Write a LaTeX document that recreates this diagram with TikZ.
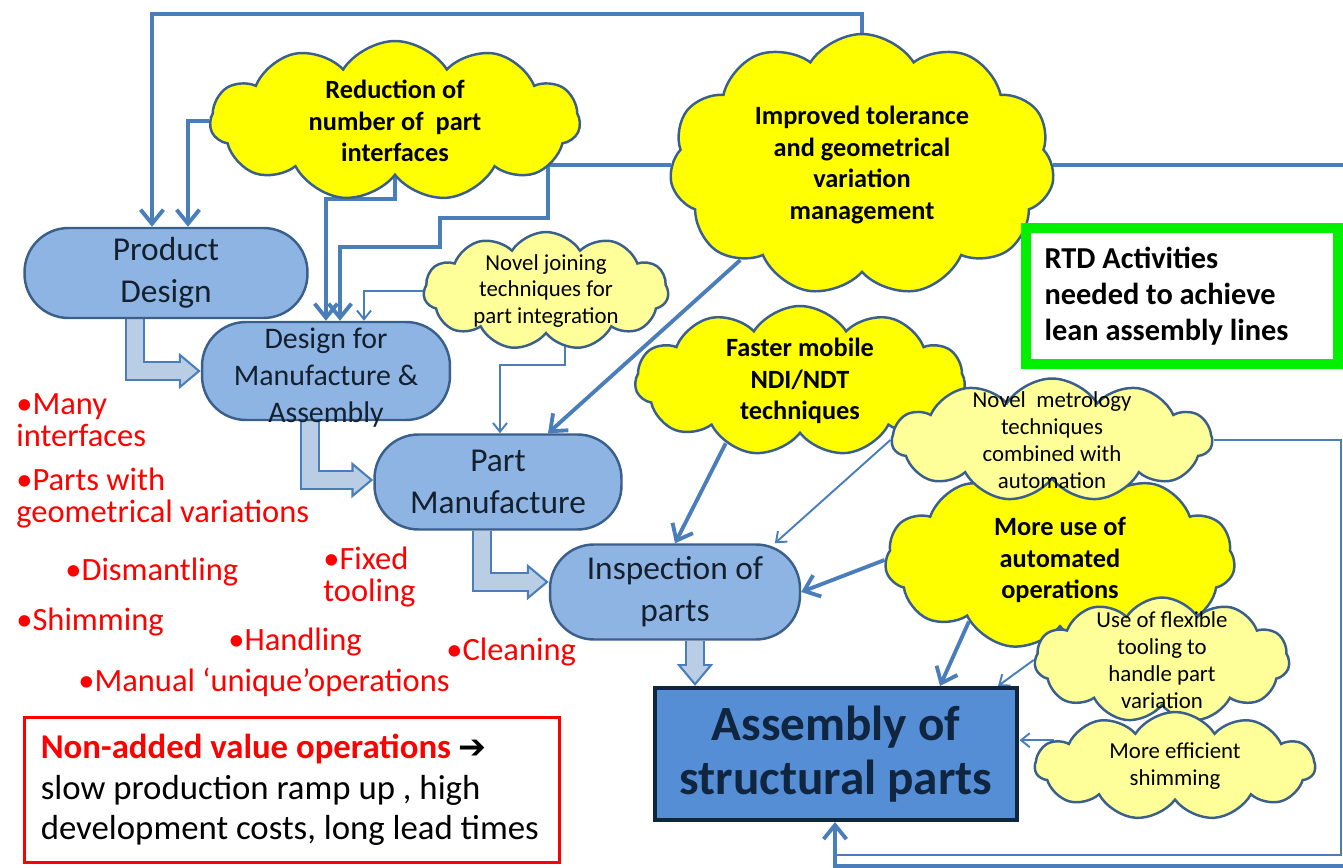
\documentclass[tikz,border=0pt]{standalone}
\usepackage{fontspec}
\setmainfont{Carlito}
\newfontfamily\symbfont{DejaVu Sans}
\usetikzlibrary{positioning, arrows.meta, shapes.symbols, calc, backgrounds}
\definecolor{boxFill}{HTML}{8EB4E3}
\definecolor{boxLine}{HTML}{3A5F8B}
\definecolor{boxText}{HTML}{14202E}
\definecolor{asmFill}{HTML}{558ED5}
\definecolor{asmLine}{HTML}{10253F}
\definecolor{blockFill}{HTML}{B9CDE5}
\definecolor{blockLine}{HTML}{4A7EBB}
\definecolor{connBlue}{HTML}{4A7EBB}
\definecolor{cloudLine}{HTML}{3A5F8B}
\definecolor{cloudYellow}{HTML}{FFFF00}
\definecolor{cloudPale}{HTML}{FFFF99}
\definecolor{myRed}{HTML}{FF0000}
\definecolor{myGreen}{HTML}{00F000}

\begin{document}
\begin{tikzpicture}[x=0.02cm, y=-0.02cm,
  flowbox/.style={draw=boxLine, line width=1.4pt, fill=boxFill, text=boxText,
                  rounded corners=0.88cm, align=center, inner sep=0pt,
                  font=\fontsize{19}{24}\selectfont},
  bigcloud/.style={cloud, cloud puffs=11, cloud puff arc=115, cloud ignores aspect,
                   draw=cloudLine, line width=1.4pt, fill=cloudYellow, align=center,
                   inner xsep=-14pt, inner ysep=-24pt,
                   font=\bfseries\fontsize{15}{18}\selectfont},
  smallcloud/.style={bigcloud, fill=cloudPale, font=\fontsize{13}{15.3}\selectfont},
  redtext/.style={text=myRed, align=left, anchor=west, inner sep=0pt,
                  font=\fontsize{18.5}{18}\selectfont},
  thickconn/.style={draw=connBlue, line width=2.2pt, line join=miter,
                    -{Straight Barb[length=8pt,width=13pt]}},
  thinconn/.style={draw=connBlue, line width=1.1pt, line join=miter,
                   -{Straight Barb[length=5pt,width=8pt]}},
  blockout/.style={draw=blockLine, line width=11.5pt, line join=miter,
                   -{Triangle[length=12.5pt,width=20pt]}},
  blockin/.style={draw=blockFill, line width=9pt, line join=miter, shorten >=2pt,
                  -{Triangle[length=9.25pt,width=14.8pt]}},
]
  \useasboundingbox (0,0) rectangle (1343,868);

  % process chain
  \node[flowbox, minimum width=5.66cm, minimum height=1.8cm] (pd) at (166,273)
    {Product\\Design};
  \node[flowbox, minimum width=4.96cm, minimum height=1.96cm] (dfma) at (326,371) {};
  \node[align=center, inner sep=0pt, text=boxText,
        font=\fontsize{17}{21}\selectfont] (dfmatext) at (326,378)
    {Design for\\Manufacture \&\\Assembly};
  \node[flowbox, minimum width=4.94cm, minimum height=1.9cm] (pm) at (498,482)
    {Part\\Manufacture};
  \node[flowbox, minimum width=5cm, minimum height=1.9cm] (insp) at (675,592)
    {Inspection of\\parts};
  \node[draw=asmLine, line width=2.3pt, fill=asmFill, text=asmLine, align=center,
        minimum width=7.26cm, minimum height=2.64cm,
        font=\bfseries\fontsize{28}{31}\selectfont] (asm) at (836,754)
    {Assembly of\\structural parts};

  % RTD clouds
  \node[bigcloud, minimum width=7.4cm, minimum height=3.2cm] (red) at (395,121)
    {Reduction of\\number of\ \ part\\interfaces};
  \node[bigcloud, minimum width=7.7cm, minimum height=5.24cm] (impr) at (862,165)
    {Improved tolerance\\and geometrical\\variation\\management};
  \node[smallcloud, minimum width=4.9cm, minimum height=2.36cm] (join) at (546,291)
    {Novel joining\\techniques for\\part integration};
  \node[bigcloud, minimum width=6.6cm, minimum height=3cm] (fast) at (800,381)
    {Faster mobile\\NDI/NDT\\techniques};
  \node[bigcloud, minimum width=7cm, minimum height=3.6cm] (auto) at (1060,560)
    {More use of\\automated\\operations};
  \node[smallcloud, minimum width=6.4cm, minimum height=2.46cm] (metro) at (1052,440)
    {Novel\ \ metrology\\techniques\\combined with\\automation};
  \node[smallcloud, minimum width=5.1cm, minimum height=2.5cm] (flex) at (1162,660)
    {Use of flexible\\tooling to\\handle part\\variation};
  \node[smallcloud, minimum width=5.6cm, minimum height=2.16cm] (shim) at (1175,766)
    {More efficient\\shimming};

  % legend boxes
  \node[draw=myGreen, line width=5.5pt, align=flush left, text width=5.5cm,
        minimum width=6.24cm, minimum height=2.72cm,
        font=\bfseries\fontsize{17.3}{20.5}\selectfont] (rtd) at (1182,296)
    {RTD Activities\\needed to achieve\\lean assembly lines};
  \node[draw=myRed, line width=1.8pt, align=flush left, text width=10.05cm,
        minimum width=10.7cm, minimum height=2.9cm,
        font=\fontsize{19.8}{23}\selectfont] (nva) at (292,790)
    {{\color{myRed}\bfseries Non-added value operations} {\symbfont\fontsize{19}{20}\selectfont ➔}\\
     slow production ramp up , high\\development costs, long lead times};

  % non-added value operations
  \node[redtext] (many) at (16,420) {•Many\\interfaces};
  \node[redtext] (geom) at (16,498) {•Parts with\\geometrical variations};
  \node[redtext] (dismantle) at (65,572) {•Dismantling};
  \node[redtext] (fixed) at (323,577) {•Fixed\\tooling};
  \node[redtext] (shimtxt) at (16,622) {•Shimming};
  \node[redtext] (handling) at (228,642) {•Handling};
  \node[redtext] (cleaning) at (446,652) {•Cleaning};
  \node[redtext] (manual) at (78,682) {•Manual ‘unique’operations};

  \coordinate (topturn) at (0,14);
  \coordinate (retjoin) at (835,855);

  \begin{scope}[on background layer]
    % block arrows along the chain
    \draw[blockout] ($(pd.south)+(-31,0)$) |- (dfma.west);
    \draw[blockin]  ($(pd.south)+(-31,0)$) |- (dfma.west);
    \draw[blockout] ($(dfma.south)+(-16,0)$) |- ($(pm.west)+(0,-2)$);
    \draw[blockin]  ($(dfma.south)+(-16,0)$) |- ($(pm.west)+(0,-2)$);
    \draw[blockout] ($(pm.south)+(-16,0)$) |- ($(insp.west)+(0,-10)$);
    \draw[blockin]  ($(pm.south)+(-16,0)$) |- ($(insp.west)+(0,-10)$);
    \draw[blockout] ($(insp.south)+(20,0)$) -- ($(asm.north)+(-141,0)$);
    \draw[blockin]  ($(insp.south)+(20,0)$) -- ($(asm.north)+(-141,0)$);

    % clouds feeding the chain
    \draw[thickconn] (impr.north) -- (impr.north |- topturn) -| ($(pd.north)+(-14,0)$);
    \draw[thickconn] (red.west) -| ($(pd.north)+(22,0)$);
    \draw[thickconn] (red.south) -- ++(0,22) -| (dfma.north);
    \draw[thickconn] (impr.west) -| (548,218) -| (440,247) -| ($(dfma.north)+(14,0)$);
    \draw[thinconn]  (join.west) -| ($(dfma.north)+(38,0)$);
    \draw[thickconn] (impr.218) -- ($(pm.north)+(50,0)$);
    \draw[thinconn]  ($(join.south)+(19,0)$) -- ++(0,30) -| ($(pm.north)+(2,0)$);
    \draw[thickconn] (fast.220) -- (insp.north);
    \draw[thinconn]  (metro.west) -- (insp.26);
    \draw[thickconn] (auto.west) -- (insp.east);
    \draw[thickconn] (auto.214) -- ($(asm.north)+(104,0)$);
    \draw[thinconn]  (flex.west) -- ($(asm.north)+(162,0)$);
    \draw[thinconn]  (shim.168) -- (shim.168 -| asm.east);
    \draw[draw=connBlue, line width=1.1pt] (metro.east) -| (1341,855) -- (retjoin);
    \draw[thickconn] (impr.east) -| (1365,866) -| ($(asm.south)+(-1,0)$);
  \end{scope}
\end{tikzpicture}
\end{document}
